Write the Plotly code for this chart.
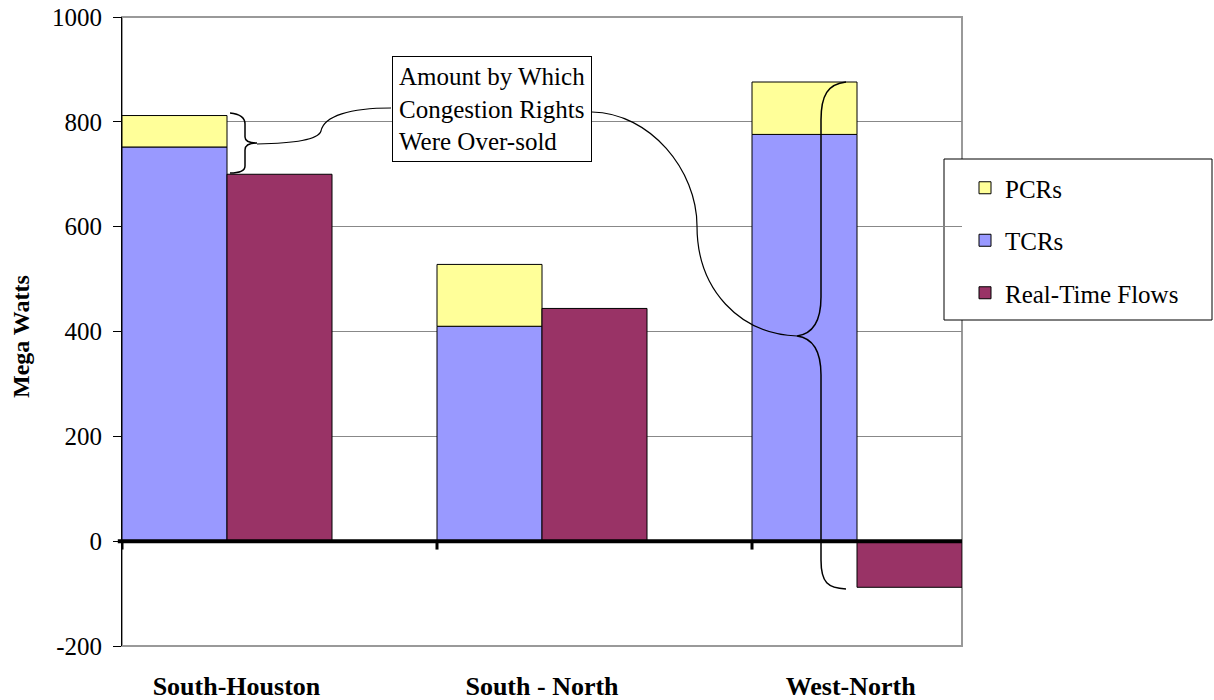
import plotly.graph_objects as go

# ---------------- data ----------------
categories = ["South-Houston", "South - North", "West-North"]
tcrs = [752, 410, 776]
pcrs = [60, 118, 100]
realtime = [700, 444, -88]
y_ticks = [-200, 0, 200, 400, 600, 800, 1000]

FONT = "'Liberation Serif', 'Times New Roman', Times, 'DejaVu Serif', serif"
C_PCR = "#FFFF99"
C_TCR = "#9999FF"
C_RT = "#993366"

# plot-area geometry (pixels) used for the decorative brace/annotation drawing
L, R, T, B = 122, 962, 17, 646
X0, X1 = -1/3, 2 + 1/3
Y0, Y1 = -200, 1000

def X(px):
    return X0 + (px - L) / (R - L) * (X1 - X0)

def Y(py):
    return Y1 - (py - T) / (B - T) * (Y1 - Y0)

def path(cmds):
    out = []
    for c in cmds:
        if isinstance(c, str):
            out.append(c)
        else:
            out.append(f"{X(c[0]):.5f},{Y(c[1]):.3f}")
    return " ".join(out)

pos = list(range(len(categories)))
x_stack = [p - 1/6 for p in pos]
x_rt = [p + 1/6 for p in pos]

fig = go.Figure()
fig.add_trace(go.Bar(x=x_stack, y=tcrs, width=1/3, name="TCRs",
                     marker=dict(color=C_TCR, line=dict(color="black", width=1)),
                     legendgroup="b", legendrank=2))
fig.add_trace(go.Bar(x=x_stack, y=pcrs, width=1/3, name="PCRs",
                     marker=dict(color=C_PCR, line=dict(color="black", width=1)),
                     legendgroup="a", legendrank=1))
fig.add_trace(go.Bar(x=x_rt, y=realtime, width=1/3, name="Real-Time Flows",
                     marker=dict(color=C_RT, line=dict(color="black", width=1)),
                     legendgroup="c", legendrank=3))

shapes = []
# plot area border (gray)
shapes.append(dict(type="rect", xref="paper", yref="paper", x0=0, x1=1, y0=0, y1=1,
                   line=dict(color="#999999", width=2), layer="below"))
# thick zero line drawn over the bars
shapes.append(dict(type="line", xref="paper", yref="y", x0=-0.005, x1=1.0, y0=0, y1=0,
                   line=dict(color="black", width=4), layer="above"))
# category boundary ticks on the zero line
for xb in [-1/3, 2/3, 5/3]:
    shapes.append(dict(type="line", xref="x", yref="y", x0=xb, x1=xb, y0=0, y1=-16,
                       line=dict(color="black", width=3)))
# small brace
shapes.append(dict(type="path", xref="x", yref="y", line=dict(color="black", width=1.5),
                   path=path(["M", (230, 113), "C", (240, 114), (245, 117), (245, 124),
                              "L", (245, 137), "C", (245, 141), (249, 143), (257, 143),
                              "C", (249, 143), (245, 145), (245, 150),
                              "L", (245, 166), "C", (245, 171), (240, 173), (230, 173)])))
# left connector
shapes.append(dict(type="path", xref="x", yref="y", line=dict(color="black", width=1.2),
                   path=path(["M", (257, 144), "C", (295, 143), (318, 140), (321, 131),
                              "C", (324, 116), (350, 108), (391, 108)])))
# right connector
shapes.append(dict(type="path", xref="x", yref="y", line=dict(color="black", width=1.2),
                   path=path(["M", (592, 112), "C", (650, 113), (697, 170), (697, 226),
                              "C", (697, 290), (740, 334), (797, 336)])))
# big brace
shapes.append(dict(type="path", xref="x", yref="y", line=dict(color="black", width=1.5),
                   path=path(["M", (846, 82), "C", (828, 84), (821, 95), (821, 120),
                              "L", (821, 297), "C", (821, 322), (812, 334), (797, 336),
                              "C", (812, 338), (821, 350), (821, 375),
                              "L", (821, 560), "C", (821, 583), (828, 588), (846, 589)])))
# legend box
lx0, lx1, ly0, ly1 = 944, 1212, 159, 320
shapes.append(dict(type="rect", xref="paper", yref="paper",
                   x0=(lx0 - L) / (R - L), x1=(lx1 - L) / (R - L),
                   y0=(B - ly1) / (B - T), y1=(B - ly0) / (B - T),
                   line=dict(color="black", width=1), fillcolor="white", layer="below"))

annotations = [
    dict(text="Amount by Which<br>Congestion Rights<br>Were Over-sold",
         xref="paper", yref="paper",
         x=((391 + 592) / 2 - L) / (R - L), y=(B - (55 + 162) / 2) / (B - T),
         xanchor="center", yanchor="middle", showarrow=False, align="left",
         font=dict(family=FONT, size=25, color="black"),
         bgcolor="white", bordercolor="black", borderwidth=1, borderpad=6),
    dict(text="<b>Mega Watts</b>", xref="paper", yref="paper",
         x=(21 - L) / (R - L), y=(B - 337) / (B - T), textangle=-90,
         xanchor="center", yanchor="middle", showarrow=False,
         font=dict(family=FONT, size=24, color="black")),
]

fig.update_layout(
    width=1214, height=700,
    margin=dict(l=L, r=1214 - R, t=T, b=700 - B, autoexpand=False),
    paper_bgcolor="white", plot_bgcolor="white",
    barmode="relative",
    showlegend=True,
    legend=dict(x=(965 - L) / (R - L), y=(B - 165) / (B - T), xanchor="left", yanchor="top",
                font=dict(family=FONT, size=25, color="black"),
                bgcolor="rgba(0,0,0,0)", borderwidth=0,
                traceorder="grouped", tracegroupgap=17),
    font=dict(family=FONT, color="black"),
    shapes=shapes,
    annotations=annotations,
    hovermode=False,
)
fig.update_xaxes(range=[X0, X1], showgrid=False, zeroline=False, showline=False,
                 automargin=False,
                 tickvals=[0.03, 1.0, 1.98], ticktext=[f"<b>{c}</b>" for c in categories],
                 ticks="", ticklabelstandoff=22,
                 tickfont=dict(family=FONT, size=26, color="black"))
fig.update_yaxes(range=[Y0, Y1], tickvals=y_ticks, ticktext=[str(v) for v in y_ticks],
                 automargin=False,
                 showgrid=True, gridcolor="#888888", gridwidth=1,
                 zeroline=False,
                 showline=True, linecolor="black", linewidth=1,
                 ticks="outside", ticklen=8, tickcolor="black", ticklabelstandoff=6,
                 tickfont=dict(family=FONT, size=25, color="black"))

fig.write_html("out.html", config={"displayModeBar": False},
               post_script="document.body.style.margin='0';document.body.style.overflow='hidden';")
